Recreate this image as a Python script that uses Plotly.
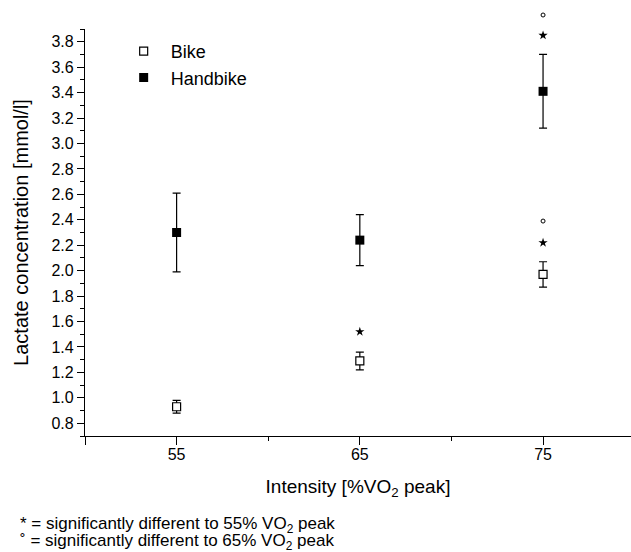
import plotly.graph_objects as go

# Data
intensity = [55, 65, 75]
bike_mean = [0.93, 1.29, 1.97]
bike_sd = [0.05, 0.07, 0.10]
hand_mean = [2.30, 2.24, 3.41]
hand_sd = [0.31, 0.20, 0.29]

# significance marks
star_x = [65, 75, 75]
star_y = [1.52, 2.22, 3.85]
circ_x = [75, 75]
circ_y = [2.39, 4.01]

Y_RANGE = [0.7, 3.9]
FONT = "Liberation Sans, Arial, sans-serif"

# layout geometry (pixels)
W, H = 631, 552
M_L, M_R, M_T, M_B = 85, 0, 10, 116
AXIS_TOP_GAP = 19          # axis line ends this far below the plot-area top
plot_h = H - M_T - M_B
dom_top = (plot_h - AXIS_TOP_GAP) / plot_h
# an invisible companion y axis with the same scale, spanning the full area
y2_range = [Y_RANGE[0], Y_RANGE[0] + (Y_RANGE[1] - Y_RANGE[0]) / dom_top]

fig = go.Figure()

fig.add_trace(go.Scatter(
    x=intensity, y=bike_mean, mode="markers", name="Bike",
    marker=dict(symbol="square", size=8, color="white",
                line=dict(color="black", width=1.2)),
    error_y=dict(type="data", array=bike_sd, color="black",
                 thickness=1.2, width=4),
))
fig.add_trace(go.Scatter(
    x=intensity, y=hand_mean, mode="markers", name="Handbike",
    marker=dict(symbol="square", size=9, color="black",
                line=dict(color="black", width=0)),
    error_y=dict(type="data", array=hand_sd, color="black",
                 thickness=1.2, width=4),
))
fig.add_trace(go.Scatter(
    x=star_x, y=star_y, mode="markers", showlegend=False,
    marker=dict(symbol="star", size=7, color="black",
                line=dict(width=0)),
    yaxis="y2",
))
fig.add_trace(go.Scatter(
    x=circ_x, y=circ_y, mode="markers", showlegend=False,
    marker=dict(symbol="circle-open", size=4, color="black",
                line=dict(width=1, color="black")),
    yaxis="y2",
))

fig.update_layout(
    width=W, height=H,
    margin=dict(l=M_L, r=M_R, t=M_T, b=M_B),
    paper_bgcolor="white", plot_bgcolor="rgba(0,0,0,0)",
    font=dict(family=FONT, size=16, color="black"),
    showlegend=True,
    legend=dict(x=0.058, y=0.946, xanchor="left", yanchor="top",
                font=dict(size=18), bgcolor="rgba(0,0,0,0)",
                itemwidth=44, tracegroupgap=0),
    xaxis=dict(
        range=[50, 79.8], showgrid=False, zeroline=False,
        showline=True, linecolor="black", linewidth=1.3,
        tickmode="array", tickvals=[50, 55, 65, 75],
        ticktext=["", "55", "65", "75"],
        ticks="outside", ticklen=8, tickwidth=1.2, tickcolor="black",
        tickfont=dict(size=16), ticklabelstandoff=-4,
        minor=dict(tickmode="array", tickvals=[60, 70], ticks="outside",
                   ticklen=4, tickwidth=1.2, tickcolor="black"),
        title=dict(text="Intensity [%VO<sub>2</sub> peak]",
                   font=dict(size=19), standoff=17),
    ),
    yaxis=dict(
        domain=[0, dom_top],
        range=Y_RANGE, showgrid=False, zeroline=False,
        showline=True, linecolor="black", linewidth=1.3,
        tick0=0.8, dtick=0.2, tickformat=".1f",
        ticks="outside", ticklen=7, tickwidth=1.2, tickcolor="black",
        tickfont=dict(size=16),
        minor=dict(tick0=0.7, dtick=0.2, ticks="outside",
                   ticklen=4, tickwidth=1.2, tickcolor="black"),
        title=dict(text="Lactate concentration [mmol/l]",
                   font=dict(size=20), standoff=17),
    ),
    yaxis2=dict(
        domain=[0, 1], range=y2_range, visible=False,
        anchor="x", showgrid=False, zeroline=False,
    ),
)

fig.add_annotation(
    text="* = significantly different to 55% VO<sub>2</sub> peak",
    xref="paper", yref="paper", x=-M_L / (W - M_L - M_R),
    y=-(525 - 436) / plot_h,
    xanchor="left", yanchor="middle", showarrow=False,
    font=dict(size=17), xshift=18,
)
fig.add_annotation(
    text="˚ = significantly different to 65% VO<sub>2</sub> peak",
    xref="paper", yref="paper", x=-M_L / (W - M_L - M_R),
    y=-(542 - 436) / plot_h,
    xanchor="left", yanchor="middle", showarrow=False,
    font=dict(size=17), xshift=18,
)

fig.write_html("out.html")
